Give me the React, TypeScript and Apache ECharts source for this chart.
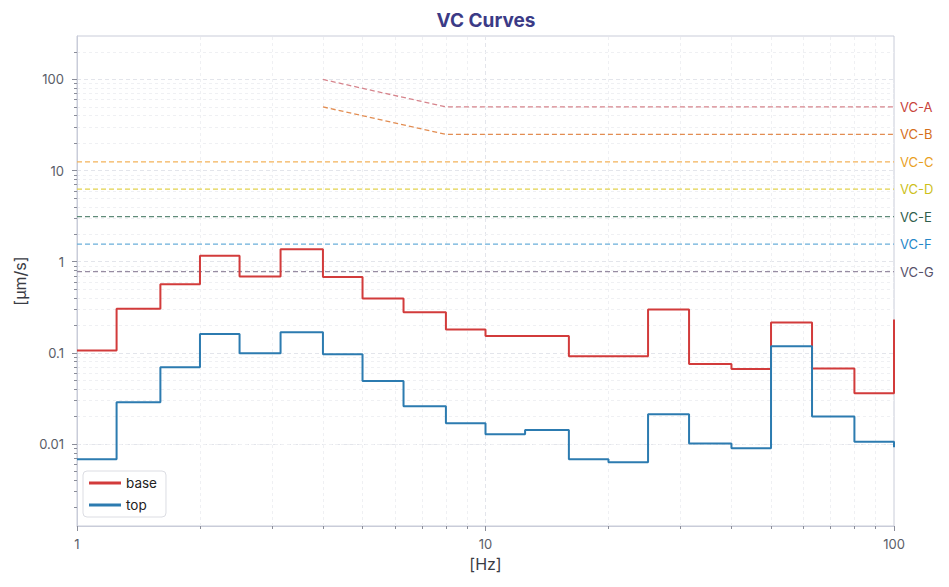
import { useEffect, useRef } from "react";
import * as echarts from "echarts";

// 1/3-octave band start frequencies (last entry = start of the clipped band at 100 Hz)
const BAND_EDGES = [1, 1.25, 1.6, 2, 2.5, 3.15, 4, 5, 6.3, 8, 10, 12.5, 16, 20, 25, 31.5, 40, 50, 63, 80, 100];
const BASE_VALUES = [0.106, 0.305, 0.565, 1.16, 0.69, 1.37, 0.68, 0.395, 0.279, 0.181, 0.153, 0.153, 0.092, 0.092, 0.3, 0.0755, 0.0665, 0.216, 0.0676, 0.036, 0.233];
const TOP_VALUES = [0.0068, 0.0287, 0.0694, 0.161, 0.0989, 0.168, 0.0964, 0.0491, 0.0259, 0.0169, 0.0128, 0.01425, 0.0068, 0.0063, 0.0212, 0.0101, 0.009, 0.118, 0.0201, 0.0106, 0.0092];

const VC_NAMES = ["VC-A", "VC-B", "VC-C", "VC-D", "VC-E", "VC-F", "VC-G"];
const VC_FREQS = [[4, 8, 100], [4, 8, 100], [1, 100], [1, 100], [1, 100], [1, 100], [1, 100]];
const VC_LEVELS = [[100, 50, 50], [50, 25, 25], [12.5, 12.5], [6.25, 6.25], [3.12, 3.12], [1.56, 1.56], [0.78, 0.78]];
const VC_LINE_COLORS = ["#d6848c", "#e28d52", "#f4b35a", "#e2d24c", "#5f8b79", "#6aafda", "#978ca2"];
const VC_TEXT_COLORS = ["#c8443b", "#d56f1c", "#e99f1f", "#cdbf1a", "#2f5e4c", "#2587c8", "#56516a"];

const X_MAJOR = [1, 10, 100];
const X_MINOR = [2, 3, 4, 5, 6, 7, 8, 9, 20, 30, 40, 50, 60, 70, 80, 90];
const Y_MAJOR = [0.01, 0.1, 1, 10, 100];
const Y_MINOR = [
  0.002, 0.003, 0.004, 0.005, 0.006, 0.007, 0.008, 0.009,
  0.02, 0.03, 0.04, 0.05, 0.06, 0.07, 0.08, 0.09,
  0.2, 0.3, 0.4, 0.5, 0.6, 0.7, 0.8, 0.9,
  2, 3, 4, 5, 6, 7, 8, 9,
  20, 30, 40, 50, 60, 70, 80, 90,
  200,
];
const Y_MIN = 0.00126;
const Y_MAX = 300;

const FONT = "Inter, 'Noto Sans', sans-serif";
const AXIS_COLOR = "#c9ccd9";
const LABEL_COLOR = "#5a5d68";
const MAJOR_GRID = "#e3e5eb";
const MINOR_GRID = "#eff0f3";

const App = () => {
  const chartRef = useRef<HTMLDivElement>(null);

  useEffect(() => {
    document.body.style.margin = "0";
    if (!chartRef.current) return;
    const chart = echarts.init(chartRef.current, undefined, { renderer: "svg" });

    const pair = (xs: number[], ys: number[]) => xs.map((x, i) => [x, ys[i]]);

    const vcSeries = VC_NAMES.map((name, i) => ({
      name,
      type: "line",
      data: pair(VC_FREQS[i], VC_LEVELS[i]),
      symbol: "none",
      silent: true,
      lineStyle: { color: VC_LINE_COLORS[i], width: 1.3, type: [5, 3] },
      endLabel: {
        show: true,
        formatter: "{a}",
        color: VC_TEXT_COLORS[i],
        fontSize: 13,
        fontFamily: FONT,
        distance: 6,
      },
      z: 2,
    }));

    const minorAxis = (values: number[]) => ({
      type: "log",
      axisLine: { show: false },
      axisLabel: { show: false },
      splitLine: { show: false },
      axisTick: { show: true, customValues: values, length: 3, lineStyle: { color: "#8a8d99" } },
    });

    const option = {
      animation: false,
      textStyle: { fontFamily: FONT },
      title: {
        text: "VC Curves",
        left: 481,
        top: 6,
        textAlign: "center",
        textStyle: { color: "#3b3a86", fontSize: 19, fontWeight: "bold", fontFamily: FONT },
      },
      grid: {
        left: 77,
        right: 55,
        top: 36,
        bottom: 61,
        show: true,
        borderColor: AXIS_COLOR,
        borderWidth: 1,
        backgroundColor: "transparent",
      },
      legend: {
        data: ["base", "top"],
        orient: "vertical",
        left: 83,
        top: 471,
        icon: "rect",
        itemWidth: 32,
        itemHeight: 3,
        itemGap: 8,
        itemTextGap: 15,
        padding: [5, 9, 5, 6],
        backgroundColor: "#ffffff",
        borderColor: "#dcdde3",
        borderWidth: 1,
        borderRadius: 4,
        textStyle: { color: "#222222", fontSize: 13.5, fontFamily: FONT },
      },
      xAxis: [
        {
          type: "log",
          min: 1,
          max: 100,
          name: "[Hz]",
          nameLocation: "middle",
          nameGap: 30,
          nameTextStyle: { color: "#3a3c44", fontSize: 16, fontFamily: FONT },
          axisLine: { lineStyle: { color: AXIS_COLOR } },
          axisTick: { customValues: X_MAJOR, length: 5, lineStyle: { color: "#8a8d99" } },
          axisLabel: { customValues: X_MAJOR, color: LABEL_COLOR, fontSize: 13, margin: 11, fontFamily: FONT },
          splitLine: { show: true, lineStyle: { color: MAJOR_GRID, type: [4, 3] } },
        },
        { ...minorAxis(X_MINOR), min: 1, max: 100, position: "bottom" },
      ],
      yAxis: [
        {
          type: "log",
          min: Y_MIN,
          max: Y_MAX,
          name: "[µm/s]",
          nameLocation: "middle",
          nameGap: 47,
          nameTextStyle: { color: "#3a3c44", fontSize: 16, fontFamily: FONT },
          axisLine: { show: true, lineStyle: { color: AXIS_COLOR } },
          axisTick: { show: true, customValues: Y_MAJOR, length: 5, lineStyle: { color: "#8a8d99" } },
          axisLabel: {
            customValues: Y_MAJOR,
            color: LABEL_COLOR,
            fontSize: 13,
            margin: 13,
            fontFamily: FONT,
            formatter: (v: number) => String(v),
          },
          splitLine: { show: true, lineStyle: { color: MAJOR_GRID, type: [4, 3] } },
        },
        { ...minorAxis(Y_MINOR), min: Y_MIN, max: Y_MAX, position: "left" },
      ],
      series: [
        {
          name: "minor-grid",
          type: "line",
          data: [],
          silent: true,
          z: 0,
          markLine: {
            silent: true,
            z: 0,
            symbol: "none",
            label: { show: false },
            lineStyle: { color: MINOR_GRID, type: [3, 3], width: 1 },
            data: [
              ...X_MINOR.map((v) => ({ xAxis: v })),
              ...Y_MINOR.map((v) => ({ yAxis: v })),
            ],
          },
        },
        ...vcSeries,
        {
          name: "base",
          type: "line",
          step: "end",
          data: pair(BAND_EDGES, BASE_VALUES),
          symbol: "none",
          lineStyle: { color: "#d23b3b", width: 2 },
          itemStyle: { color: "#d23b3b" },
          z: 3,
        },
        {
          name: "top",
          type: "line",
          step: "end",
          data: pair(BAND_EDGES, TOP_VALUES),
          symbol: "none",
          lineStyle: { color: "#2c7bb0", width: 2 },
          itemStyle: { color: "#2c7bb0" },
          z: 3,
        },
      ],
    };

    chart.setOption(option as echarts.EChartsOption);

    return () => {
      chart.dispose();
    };
  }, []);

  return <div ref={chartRef} style={{ width: "949px", height: "587px" }} />;
};

export default App;
